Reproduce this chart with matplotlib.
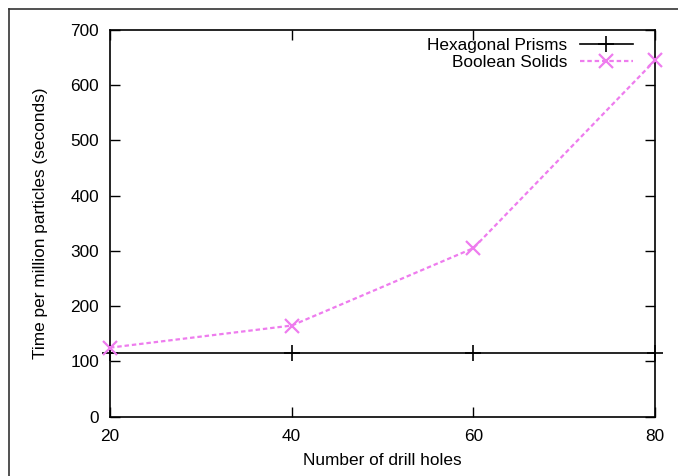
import matplotlib
matplotlib.use("Agg")
import matplotlib.pyplot as plt
from matplotlib.lines import Line2D

plt.rcParams['font.family'] = ['Liberation Sans', 'DejaVu Sans']

holes = [20, 40, 60, 80]
hex_prisms = [115, 115, 115, 115]
boolean_solids = [125, 165, 305, 645]
x_ticks = [20, 40, 60, 80]
y_ticks = [0, 100, 200, 300, 400, 500, 600, 700]

FS = 12.4

fig = plt.figure(figsize=(6.78, 4.76), dpi=100)
ax = fig.add_axes([110/678, 1-416.7/476, (655-110)/678, (416.7-30)/476])

ax.plot(holes, hex_prisms, color='black', lw=1.2, marker='+', ms=11, mew=1.2,
        label='Hexagonal Prisms', clip_on=False, zorder=3)
ax.plot(holes, boolean_solids, color='#ee7cee', lw=1.6, ls=(0, (2, 1.3)),
        marker='x', ms=10, mew=1.6, label='Boolean Solids', clip_on=False, zorder=4)

ax.set_xlim(20, 80)
ax.set_ylim(0, 700)
ax.set_xticks(x_ticks)
ax.set_yticks(y_ticks)
ax.tick_params(direction='in', length=7, width=1, labelsize=FS, pad=8,
               top=True, right=True, colors='black')
ax.tick_params(axis='x', pad=9)
for s in ax.spines.values():
    s.set_linewidth(1.2)

ax.set_xlabel('Number of drill holes', fontsize=FS, labelpad=6)
ax.set_ylabel('Time per million particles (seconds)', fontsize=FS, labelpad=16)

leg = ax.legend(loc='upper right', bbox_to_anchor=((633-110)/545, (416.7-38)/386.7),
                frameon=False, markerfirst=False, fontsize=FS, handlelength=3.1,
                labelspacing=0.13, handletextpad=0.7, borderaxespad=0.0, borderpad=0.0)

# outer frame (top and left)
fig.add_artist(Line2D([9/678, 1], [1-9/476, 1-9/476], color='#333333', lw=1.2,
                      transform=fig.transFigure))
fig.add_artist(Line2D([9/678, 9/678], [0, 1-9/476], color='#333333', lw=1.2,
                      transform=fig.transFigure))

fig.savefig('out.png', dpi=100)
